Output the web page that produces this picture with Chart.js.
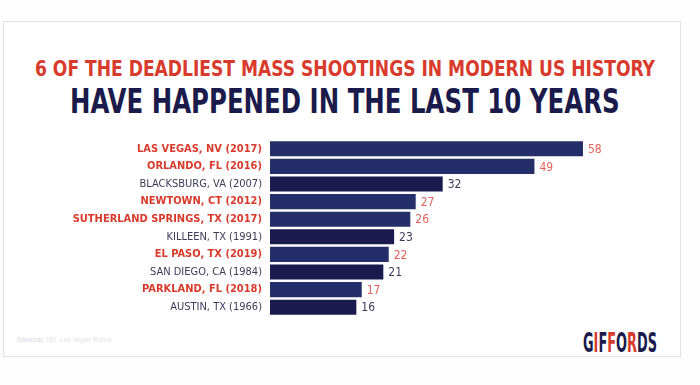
<!DOCTYPE html>
<html>
<head>
<meta charset="utf-8">
<script src="https://cdn.jsdelivr.net/npm/chart.js@4/dist/chart.umd.min.js"></script>
<style>
  body { margin: 0; background: #fdfdfd; width: 700px; height: 385px; overflow: hidden; position: relative; }
  #card { position: absolute; left: 3px; top: 21px; width: 676px; height: 334px; border: 1px solid #e2e2e2; background: #fff; }
  .t { position: absolute; font-family: 'DejaVu Sans Condensed', sans-serif; font-weight: bold; white-space: nowrap; transform-origin: 0 0; line-height: 1; }
  #t1 { left: 35px; top: 58px; font-size: 22px; color: #d83a2c; }
  #t2 { left: 70px; top: 84px; font-size: 34px; color: #1a1a4b; }
  #wrap { position: absolute; left: 0; top: 140px; width: 700px; height: 176px; }
  #src { position: absolute; left: 17px; top: 336px; font-family: 'DejaVu Sans Condensed', sans-serif; font-size: 7px; color: #e2e2e8; }
  #logo { position: absolute; left: 583px; top: 330px; font-family: 'DejaVu Sans Condensed', sans-serif; font-weight: bold; font-size: 26px; line-height: 1; white-space: nowrap; transform-origin: 0 0; }
</style>
</head>
<body>
<div id="card"></div>
<div class="t" id="t1">6 OF THE DEADLIEST MASS SHOOTINGS IN MODERN US HISTORY</div>
<div class="t" id="t2">HAVE HAPPENED IN THE LAST 10 YEARS</div>
<div id="wrap"><canvas id="grafico"></canvas></div>
<div id="src"><b>Source:</b> FBI, Las Vegas Police</div>
<div id="logo"><span style="color:#1a1a4b">G</span><span style="color:#d83a2c">I</span><span style="color:#1a1a4b">F</span><span style="color:#d83a2c">F</span><span style="color:#1a1a4b">O</span><span style="color:#d83a2c">R</span><span style="color:#1a1a4b">D</span><span style="color:#1a1a4b">S</span></div>
<script>
const locais = ['LAS VEGAS, NV (2017)', 'ORLANDO, FL (2016)', 'BLACKSBURG, VA (2007)', 'NEWTOWN, CT (2012)', 'SUTHERLAND SPRINGS, TX (2017)', 'KILLEEN, TX (1991)', 'EL PASO, TX (2019)', 'SAN DIEGO, CA (1984)', 'PARKLAND, FL (2018)', 'AUSTIN, TX (1966)'];
const mortes = [58, 49, 32, 27, 26, 23, 22, 21, 17, 16];
const ultimos10anos = [true, true, false, true, true, false, true, false, true, false];

const vermelho = '#d83a2c';
const vermelhoClaro = '#e2635a';
const cinza = '#3c3c5a';

// aperta o texto na largura certa (fonte condensada nao existe aqui)
function ajusta(id, largura) {
    const el = document.getElementById(id);
    el.style.transform = 'scaleX(' + (largura / el.offsetWidth) + ')';
}
ajusta('t1', 620);
ajusta('t2', 550);
ajusta('logo', 74);

// escreve o numero no fim de cada barra
const valoresPlugin = {
    id: 'valores',
    afterDatasetsDraw(chart) {
        const ctx = chart.ctx;
        const meta = chart.getDatasetMeta(0);
        ctx.save();
        ctx.font = '12px "DejaVu Sans Condensed", sans-serif';
        ctx.textBaseline = 'middle';
        meta.data.forEach((bar, i) => {
            ctx.fillStyle = ultimos10anos[i] ? vermelhoClaro : cinza;
            ctx.fillText(mortes[i], bar.x + 5, bar.y + 1);
        });
        ctx.restore();
    }
};

new Chart(document.getElementById('grafico'), {
    type: 'bar',
    data: {
        labels: locais,
        datasets: [{
            data: mortes,
            backgroundColor: ultimos10anos.map(d => d ? '#242e68' : '#1b1a4e'),
            borderWidth: 0,
            categoryPercentage: 1,
            barPercentage: 0.86
        }]
    },
    plugins: [valoresPlugin],
    options: {
        indexAxis: 'y',
        responsive: true,
        maintainAspectRatio: false,
        animation: false,
        layout: { padding: { left: 0, right: 117, top: 0, bottom: 0 } },
        plugins: { legend: { display: false }, tooltip: { enabled: false } },
        scales: {
            x: { display: false, min: 0, max: 58 },
            y: {
                afterFit: (scale) => {
                    scale.width = 270;
                    scale.paddingTop = 0;
                    scale.paddingBottom = 0;
                },
                grid: { display: false, drawTicks: false },
                border: { display: false },
                ticks: {
                    padding: 8,
                    color: (c) => ultimos10anos[c.index] ? vermelho : cinza,
                    font: (c) => ({
                        family: '"DejaVu Sans Condensed", sans-serif',
                        size: 11,
                        weight: ultimos10anos[c.index] ? 'bold' : 'normal'
                    })
                }
            }
        }
    }
});
</script>
</body>
</html>
